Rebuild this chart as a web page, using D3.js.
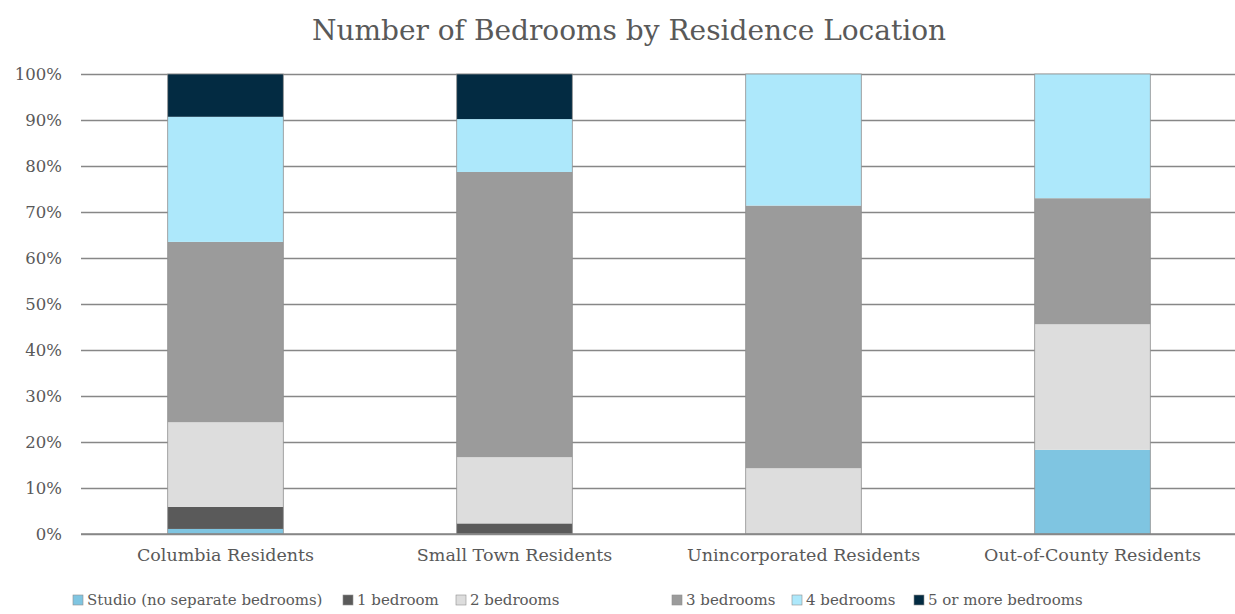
<!DOCTYPE html>
<html>
<head>
<meta charset="utf-8">
<script src="https://cdn.jsdelivr.net/npm/d3@7"></script>
<style>
  html, body { margin: 0; padding: 0; background: #ffffff; }
  svg { display: block; font-family: "DejaVu Serif", Georgia, serif; }
</style>
</head>
<body>
<svg id="chart" width="1235" height="614"></svg>
<script>
// ---- data ----
const categories = ["Columbia Residents", "Small Town Residents", "Unincorporated Residents", "Out-of-County Residents"];
const seriesNames = ["Studio (no separate bedrooms)", "1 bedroom", "2 bedrooms", "3 bedrooms", "4 bedrooms", "5 or more bedrooms"];
const studio   = [1.1, 0.0, 0.0, 18.3];
const oneBed   = [4.8, 2.3, 0.0, 0.0];
const twoBed   = [18.4, 14.4, 14.3, 27.3];
const threeBed = [39.2, 62.0, 57.1, 27.4];
const fourBed  = [27.2, 11.5, 28.6, 27.0];
const fiveBed  = [9.3, 9.8, 0.0, 0.0];
const yTicks = [0, 10, 20, 30, 40, 50, 60, 70, 80, 90, 100];
const colors = ["#7fc5e1", "#5a5a5a", "#dddddd", "#9b9b9b", "#ade8fb", "#032b42"];

const seriesValues = [studio, oneBed, twoBed, threeBed, fourBed, fiveBed];
const rows = categories.map((c, i) => {
  const r = { category: c };
  seriesNames.forEach((s, j) => r[s] = seriesValues[j][i]);
  return r;
});

const svg = d3.select("#chart");
const margin = { left: 81, right: -2, top: 74, bottom: 80 };
const W = 1235, H = 614;

const x = d3.scaleBand().domain(categories)
  .range([margin.left, W - margin.right])
  .paddingInner(0.6).paddingOuter(0.3);
const y = d3.scaleLinear().domain([0, 100]).range([534, 74]);

// title
svg.append("text")
  .attr("x", 629).attr("y", 40)
  .attr("text-anchor", "middle")
  .attr("font-size", 28)
  .attr("fill", "#595959")
  .text("Number of Bedrooms by Residence Location");

// gridlines
const yAxis = d3.axisLeft(y).tickValues(yTicks)
  .tickSize(-(W - margin.right - margin.left))
  .tickFormat(d => d + "%")
  .tickPadding(19);
const gy = svg.append("g").attr("transform", `translate(${margin.left},0)`).call(yAxis);
gy.select(".domain").remove();
gy.selectAll(".tick line").attr("stroke", "#878787").attr("stroke-width", 1.3);
gy.selectAll(".tick text").attr("fill", "#595959").attr("font-size", 16.5)
  .attr("font-family", "DejaVu Serif, Georgia, serif");

// stacked bars
const stack = d3.stack().keys(seriesNames);
const stacked = stack(rows);
svg.append("g").selectAll("g")
  .data(stacked).join("g")
  .attr("fill", (d, i) => colors[i])
  .selectAll("rect")
  .data(d => d).join("rect")
  .attr("x", d => x(d.data.category))
  .attr("width", x.bandwidth())
  .attr("y", d => y(d[1]))
  .attr("height", d => Math.max(0, y(d[0]) - y(d[1])));

// thin outline on bar sides
svg.append("g").selectAll("rect")
  .data(categories).join("rect")
  .attr("x", d => x(d)).attr("width", x.bandwidth())
  .attr("y", y(100)).attr("height", y(0) - y(100))
  .attr("fill", "none").attr("stroke", "#8f8f8f").attr("stroke-width", 0.8);

// baseline
svg.append("line")
  .attr("x1", margin.left).attr("x2", W)
  .attr("y1", y(0)).attr("y2", y(0))
  .attr("stroke", "#878787").attr("stroke-width", 1.3);

// x axis labels
const xAxis = d3.axisBottom(x).tickSize(0).tickPadding(15);
const gx = svg.append("g").attr("transform", `translate(0,${y(0)})`).call(xAxis);
gx.select(".domain").remove();
gx.selectAll(".tick text").attr("fill", "#595959").attr("font-size", 17.5)
  .attr("font-family", "DejaVu Serif, Georgia, serif");

// legend
const legendX = [73, 343, 456, 672, 792, 914];
const lg = svg.append("g").selectAll("g")
  .data(seriesNames).join("g")
  .attr("transform", (d, i) => `translate(${legendX[i]},605)`);
lg.append("rect").attr("x", 0).attr("y", -10).attr("width", 10).attr("height", 10)
  .attr("fill", (d, i) => colors[i]).attr("stroke", "#8f8f8f").attr("stroke-width", 0.6);
lg.append("text").attr("x", 14).attr("y", 0)
  .attr("font-size", 15).attr("fill", "#595959")
  .text(d => d);
</script>
</body>
</html>
